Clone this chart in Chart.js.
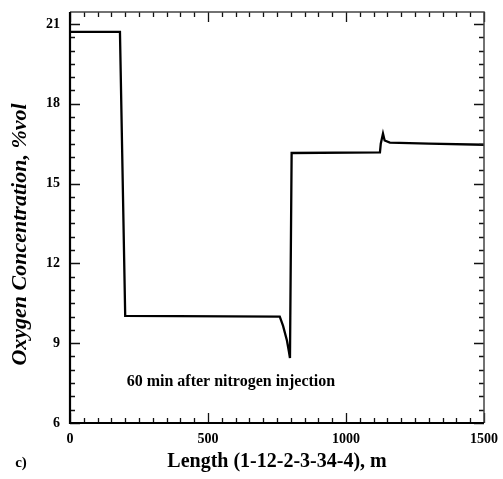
<!DOCTYPE html>
<html>
<head>
<meta charset="utf-8">
<script src="https://cdn.jsdelivr.net/npm/chart.js@4.4.1/dist/chart.umd.min.js"></script>
<style>
  body { margin: 0; background: #fff; }
  canvas { display: block; }
</style>
</head>
<body>
<canvas id="chartCanvas" width="503" height="479"></canvas>
<script>
    // oxygen concentration along the line, 60 min after injection
    const lengthM = [0, 181, 200, 760, 772, 786, 793, 797, 803, 1123, 1126, 1134, 1140, 1159, 1300, 1500];
    const oxygen = [20.7, 20.7, 10.03, 10.0, 9.65, 9.1, 8.7, 8.44, 16.15, 16.17, 16.5, 16.88, 16.62, 16.54, 16.5, 16.46];

    const xTicks = [0, 500, 1000, 1500];
    const yTicks = [6, 9, 12, 15, 18, 21];
    const xMinorStep = 50;
    const yMinorStep = 0.5;

    const serif = '"Liberation Serif", "DejaVu Serif", serif';

    // frame + inward ticks on all four sides, plus the extra texts
    const frameTicks = {
        id: 'frameTicks',
        afterDatasetsDraw(chart) {
            const ctx = chart.ctx;
            const a = chart.chartArea;
            const x = chart.scales.x;
            const y = chart.scales.y;

            ctx.save();
            ctx.strokeStyle = '#111';
            ctx.lineWidth = 1.3;
            ctx.beginPath();
            for (let v = x.min; v <= x.max + 0.001; v += xMinorStep) {
                const px = Math.round(x.getPixelForValue(v)) + 0.5;
                const len = xTicks.includes(v) ? 10 : 5;
                ctx.moveTo(px, a.bottom); ctx.lineTo(px, a.bottom - len);
                ctx.moveTo(px, a.top); ctx.lineTo(px, a.top + len);
            }
            for (let v = y.min; v <= y.max + 0.001; v += yMinorStep) {
                const py = Math.round(y.getPixelForValue(v)) + 0.5;
                const len = yTicks.includes(v) ? 10 : 5;
                ctx.moveTo(a.left, py); ctx.lineTo(a.left + len, py);
                ctx.moveTo(a.right, py); ctx.lineTo(a.right - len, py);
            }
            ctx.stroke();

            // top and right edges thinner, left and bottom heavier
            ctx.strokeStyle = '#444';
            ctx.lineWidth = 1.5;
            ctx.beginPath();
            ctx.moveTo(a.left, a.top); ctx.lineTo(a.right, a.top); ctx.lineTo(a.right, a.bottom);
            ctx.stroke();
            ctx.strokeStyle = '#000';
            ctx.lineWidth = 2.2;
            ctx.beginPath();
            ctx.moveTo(a.left, a.top); ctx.lineTo(a.left, a.bottom); ctx.lineTo(a.right, a.bottom);
            ctx.stroke();

            ctx.fillStyle = '#000';
            ctx.textBaseline = 'middle';
            ctx.textAlign = 'center';
            ctx.font = 'bold 16px ' + serif;
            ctx.fillText('60 min after nitrogen injection', x.getPixelForValue(583), y.getPixelForValue(7.55));

            ctx.font = 'bold 15px ' + serif;
            ctx.fillText('c)', 21, 463);

            ctx.translate(20, (a.top + a.bottom) / 2 + 17);
            ctx.rotate(-Math.PI / 2);
            ctx.font = 'italic bold 22px ' + serif;
            ctx.fillText('Oxygen Concentration, %vol', 0, 0);
            ctx.restore();
        }
    };

    const chart = new Chart(document.getElementById('chartCanvas'), {
        type: 'line',
        data: {
            datasets: [{
                data: lengthM.map((v, i) => ({ x: v, y: oxygen[i] })),
                borderColor: '#000',
                borderWidth: 2.3,
                pointRadius: 0,
                tension: 0,
                fill: false
            }]
        },
        options: {
            responsive: false,
            animation: false,
            devicePixelRatio: 1,
            layout: { padding: { top: 12, right: 19, left: 0, bottom: 0 } },
            plugins: { legend: { display: false }, tooltip: { enabled: false } },
            scales: {
                x: {
                    type: 'linear',
                    min: 0,
                    max: 1500,
                    afterBuildTicks: s => { s.ticks = xTicks.map(v => ({ value: v })); },
                    afterFit: s => { s.height = 56; s.paddingLeft = 0; s.paddingRight = 0; },
                    grid: { display: false, drawTicks: false },
                    border: { display: false },
                    ticks: {
                        padding: 8,
                        color: '#000',
                        callback: v => String(v),
                        font: { family: serif, size: 14, weight: 'bold' }
                    },
                    title: {
                        display: true,
                        text: 'Length (1-12-2-3-34-4), m',
                        color: '#000',
                        padding: { top: 0, bottom: 5 },
                        font: { family: serif, size: 20, weight: 'bold' }
                    }
                },
                y: {
                    type: 'linear',
                    min: 6,
                    max: 21.45,
                    afterBuildTicks: s => { s.ticks = yTicks.map(v => ({ value: v })); },
                    afterFit: s => { s.width = 70; s.paddingTop = 0; s.paddingBottom = 0; },
                    grid: { display: false, drawTicks: false },
                    border: { display: false },
                    ticks: {
                        padding: 10,
                        color: '#000',
                        callback: v => String(v),
                        font: { family: serif, size: 14, weight: 'bold' }
                    }
                }
            }
        },
        plugins: [frameTicks]
    });
</script>
</body>
</html>
